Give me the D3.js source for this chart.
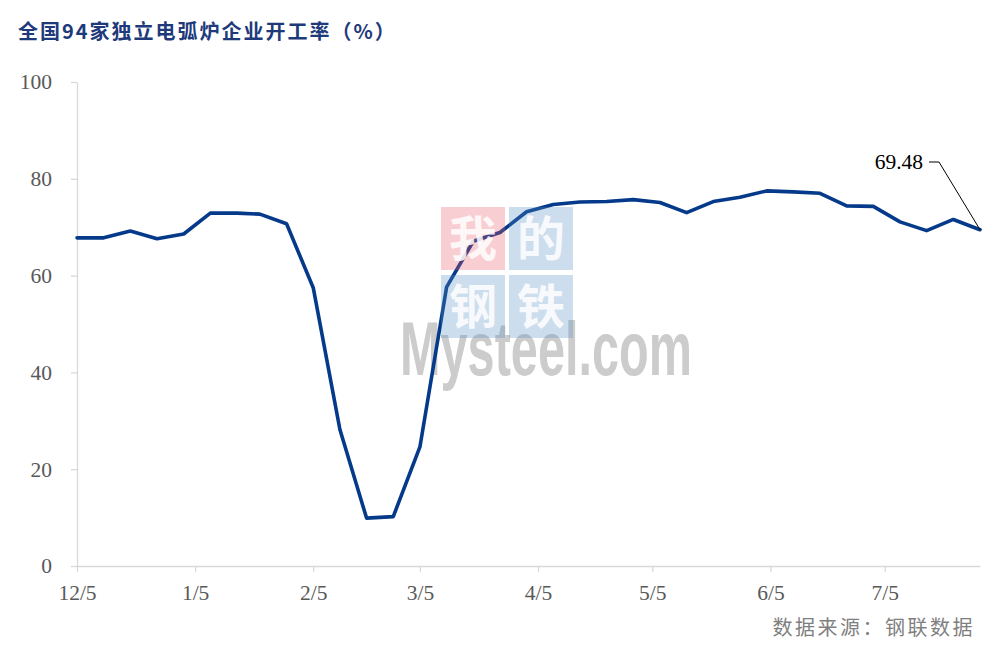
<!DOCTYPE html>
<html>
<head>
<meta charset="utf-8">
<script src="https://cdn.jsdelivr.net/npm/d3@7/dist/d3.min.js"></script>
<style>
  html, body { margin: 0; padding: 0; background: #fff; }
  svg { display: block; }
</style>
</head>
<body>
<svg id="chart" width="1003" height="647"></svg>
<script>
// ---- data ----
const dates = [
  "2022-12-05","2022-12-12","2022-12-19","2022-12-26","2023-01-02","2023-01-09",
  "2023-01-16","2023-01-22","2023-01-29","2023-02-05","2023-02-12","2023-02-19",
  "2023-02-26","2023-03-05","2023-03-12","2023-03-19","2023-03-26","2023-04-02",
  "2023-04-09","2023-04-16","2023-04-23","2023-04-30","2023-05-07","2023-05-14",
  "2023-05-21","2023-05-28","2023-06-04","2023-06-11","2023-06-18","2023-06-25",
  "2023-07-02","2023-07-09","2023-07-16","2023-07-23","2023-07-30"
];
const rates = [
  67.8, 67.8, 69.2, 67.6, 68.6, 72.9,
  72.9, 72.7, 70.7, 57.5, 28.2, 9.9,
  10.2, 24.6, 57.6, 67.1, 68.9, 73.2,
  74.7, 75.2, 75.3, 75.7, 75.1, 73.0,
  75.3, 76.2, 77.5, 77.3, 77.0, 74.4,
  74.3, 71.1, 69.3, 71.6, 69.48
];
const xTickDates = ["2022-12-05","2023-01-05","2023-02-05","2023-03-05","2023-04-05","2023-05-05","2023-06-05","2023-07-05"];
const yTicks = [0, 20, 40, 60, 80, 100];
const titleText = "全国94家独立电弧炉企业开工率（%）";
const sourceText = "数据来源：钢联数据";
const lastLabel = "69.48";

// ---- drawing ----
const parse = d3.timeParse("%Y-%m-%d");
const data = dates.map((d, i) => ({ date: parse(d), value: rates[i] }));
const svg = d3.select("#chart");
const plot = { left: 77, right: 980, top: 82, bottom: 566 };

const x = d3.scaleTime()
  .domain([data[0].date, data[data.length - 1].date])
  .range([plot.left, plot.right]);
const y = d3.scaleLinear().domain([0, 100]).range([plot.bottom, plot.top]);

const serif = "'Liberation Serif', 'Times New Roman', serif";
const cjk = "'Noto Sans CJK SC', sans-serif";

// title
svg.append("text")
  .attr("x", 18).attr("y", 39)
  .attr("font-family", cjk).attr("font-weight", 700)
  .attr("font-size", 20).attr("letter-spacing", 2)
  .attr("fill", "#1E3A7B")
  .text(titleText);

// watermark gray text (below line)
svg.append("text")
  .attr("x", 400).attr("y", 375)
  .attr("font-family", "'Liberation Sans', Arial, sans-serif")
  .attr("font-weight", 700)
  .attr("font-size", 76)
  .attr("textLength", 292).attr("lengthAdjust", "spacingAndGlyphs")
  .attr("fill", "#CCCCCC")
  .text("Mysteel.com");

// axes
const yAxis = d3.axisLeft(y).tickValues(yTicks).tickSize(6).tickSizeOuter(0).tickPadding(19);
const gy = svg.append("g").attr("transform", `translate(${plot.left},0)`).call(yAxis);
const xAxis = d3.axisBottom(x).tickValues(xTickDates.map(parse))
  .tickFormat(d3.timeFormat("%-m/%-d")).tickSize(6).tickSizeOuter(0).tickPadding(13);
const gx = svg.append("g").attr("transform", `translate(0,${plot.bottom})`).call(xAxis);

[gx, gy].forEach(g => {
  g.select(".domain").attr("stroke", "#D9D9D9").attr("stroke-width", 1.3);
  g.selectAll(".tick line").attr("stroke", "#D9D9D9").attr("stroke-width", 1.3);
  g.selectAll(".tick text").attr("font-family", serif).attr("font-size", 21.5).attr("fill", "#595959");
});

// line
const line = d3.line().x(d => x(d.date)).y(d => y(d.value));
svg.append("path")
  .datum(data)
  .attr("d", line)
  .attr("fill", "none")
  .attr("stroke", "#05398A")
  .attr("stroke-width", 3.6)
  .attr("stroke-linejoin", "round")
  .attr("stroke-linecap", "round");

// watermark squares (on top, translucent)
const wm = svg.append("g");
const sq = [
  { x: 441, y: 207, c: "#EB5C6C", ch: "我" },
  { x: 509, y: 207, c: "#5590C5", ch: "的" },
  { x: 441, y: 275, c: "#5590C5", ch: "钢" },
  { x: 509, y: 275, c: "#5590C5", ch: "铁" }
];
sq.forEach(s => {
  wm.append("rect").attr("x", s.x).attr("y", s.y).attr("width", 64).attr("height", 63)
    .attr("fill", s.c).attr("opacity", 0.3);
  wm.append("text").attr("x", s.x + 32).attr("y", s.y + 49)
    .attr("text-anchor", "middle")
    .attr("font-family", cjk).attr("font-weight", 700).attr("font-size", 48)
    .attr("fill", "#fff").attr("opacity", 0.85)
    .text(s.ch);
});

// last value annotation
const last = data[data.length - 1];
const lx = x(last.date), ly = y(last.value);
svg.append("path")
  .attr("d", `M${lx - 51},162 L${lx - 41},162 L${lx},${ly}`)
  .attr("fill", "none").attr("stroke", "#000").attr("stroke-width", 1);
svg.append("text")
  .attr("x", lx - 57).attr("y", 169)
  .attr("text-anchor", "end")
  .attr("font-family", serif).attr("font-size", 21.5).attr("fill", "#000")
  .text(lastLabel);

// source
svg.append("text")
  .attr("x", 975).attr("y", 635)
  .attr("text-anchor", "end")
  .attr("font-family", cjk).attr("font-size", 20).attr("letter-spacing", 2.5)
  .attr("fill", "#7F7F7F")
  .text(sourceText);
</script>
</body>
</html>
